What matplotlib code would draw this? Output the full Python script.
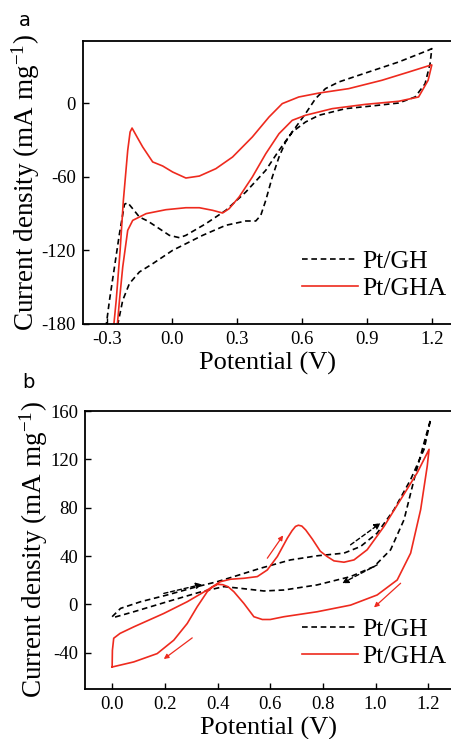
import numpy as np
import matplotlib
matplotlib.use('Agg')
import matplotlib.pyplot as plt

plt.rcParams['font.family'] = ['Liberation Serif', 'DejaVu Serif']
plt.rcParams['mathtext.fontset'] = 'custom'
plt.rcParams['mathtext.rm'] = 'Liberation Serif'
plt.rcParams['mathtext.it'] = 'Liberation Serif:italic'

RED = '#ee2a1e'

# ---- panel a : Pt/GH (dashed) ----
a_gh_x = [-0.272, -0.249, -0.227, -0.196, -0.150, -0.089, 0.003, 0.141, 0.248, 0.340, 0.386,
          0.409, 0.432, 0.462, 0.493, 0.523, 0.554, 0.615, 0.677, 0.799, 0.922, 1.044,
          1.120, 1.166, 1.189, 1.197,
          1.180, 1.044, 0.891, 0.768, 0.707, 0.661, 0.615, 0.554, 0.493, 0.432, 0.340,
          0.248, 0.156, 0.064, 0.034, -0.012, -0.058, -0.112, -0.150, -0.181, -0.204,
          -0.219, -0.242, -0.265, -0.288, -0.306]
a_gh_y = [-188, -179.7, -160.7, -147, -137.6, -130.9, -120, -107.8, -99.6, -96.1, -96.1,
          -91.5, -79.3, -60.3, -44, -31.8, -23.6, -15.5, -10, -4.6, -2.4, 0,
          4.9, 15.7, 32, 44.3,
          42.9, 33.4, 24.4, 17.1, 11.7, 3.5, -8.7, -23.6, -38.6, -54.8, -72.5,
          -87.4, -98.3, -107.8, -109.7, -107.8, -102.4, -96.1, -92.9, -86.1, -81.2,
          -82.5, -106.4, -133.6, -160.7, -185]

# ---- panel a : Pt/GHA (solid red) ----
a_gha_x = [-0.272, -0.257, -0.239, -0.224, -0.204, -0.193, -0.184, -0.160, -0.135, -0.089,
           -0.043, 0.003, 0.064, 0.126, 0.202, 0.279, 0.370, 0.447, 0.508, 0.584, 0.677,
           0.814, 0.967, 1.090, 1.189, 1.197,
           1.180, 1.136, 1.044, 0.891, 0.738, 0.615, 0.554, 0.493, 0.432, 0.370, 0.309,
           0.263, 0.233, 0.187, 0.126, 0.064, -0.028, -0.119, -0.181, -0.204, -0.227,
           -0.242, -0.254]
a_gha_y = [-188, -160.7, -120, -79.3, -38.6, -23.6, -20.4, -28, -35.8, -48,
           -51.3, -56.2, -61.1, -59.5, -53.5, -44, -27.7, -11.4, -0.5, 4.9, 8.1,
           11.7, 18.5, 25.2, 30.7, 31,
           18.5, 4.9, 1.4, -1.1, -4.6, -10, -14.1, -25, -41.3, -60.3, -76.6,
           -86.1, -89.6, -87.4, -85.3, -85.3, -86.9, -90.1, -95.6, -103.7, -133.6,
           -160.7, -185]

# ---- panel b : Pt/GH (dashed) ----
b_gh_x = [0.0, 0.032, 0.108, 0.209, 0.323, 0.399, 0.462, 0.563, 0.677, 0.778, 0.880,
          0.943, 1.006, 1.070, 1.133, 1.184, 1.209,
          1.184, 1.146, 1.108, 1.057, 0.994, 0.905, 0.778, 0.652, 0.576, 0.487, 0.424,
          0.339, 0.209, 0.082, 0.006]
b_gh_y = [-10.2, -3.3, 2.2, 7.8, 14.7, 18.8, 23, 29.9, 36.8, 40.2, 42.4,
          47.9, 59, 78.4, 103.3, 128.3, 153.2,
          133.8, 103.3, 70.1, 45.2, 31.3, 23, 16.1, 11.9, 11.1, 13.3, 14.7,
          10.5, 2.2, -6.1, -10.8]

# ---- panel b : Pt/GHA (solid red) ----
b_gha_x = [0.0, 0.001, 0.006, 0.03, 0.082, 0.196, 0.285, 0.361, 0.411, 0.449, 0.500, 0.551,
           0.589, 0.627, 0.665, 0.683, 0.696, 0.707, 0.720, 0.735, 0.760, 0.790, 0.816, 0.842,
           0.880, 0.918, 0.968, 1.032, 1.095, 1.158, 1.203,
           1.196, 1.171, 1.133, 1.082, 1.006, 0.905, 0.778, 0.652, 0.600, 0.570, 0.538,
           0.500, 0.462, 0.440, 0.420, 0.400, 0.380, 0.361, 0.323, 0.285, 0.234, 0.171,
           0.082, 0.0]
b_gha_y = [-51.8, -38, -28, -24, -18.6, -7.5, 2.2, 11.9, 18.8, 20.8, 21.6, 23,
           28.5, 39.6, 54.8, 61, 64.5, 65.5, 64.8, 61.5, 54, 44, 39.6, 36,
           34.9, 36.8, 45.2, 64.5, 86.7, 108.9, 128.3,
           114.4, 78.4, 42.4, 20.2, 7.8, -0.6, -6.1, -10.2, -12.5, -12.5, -10.2,
           0.8, 10.5, 14.6, 16.3, 16.6, 14.2, 10.5, -1.9, -15.8, -29.6, -40.7,
           -47.6, -51.8]

# scan direction arrows in panel b: (x_start, y_start, x_end, y_end)
b_gh_arrows = [(0.196, 9.1, 0.342, 16.6), (0.905, 49.3, 1.019, 67.3), (1.006, 32.7, 0.873, 17.5)]
b_gha_arrows = [(0.589, 38.2, 0.649, 57.1), (1.095, 17.5, 0.994, -2.5), (0.304, -27.7, 0.196, -45.2)]

fig = plt.figure(figsize=(4.52, 7.39), dpi=100)
W, H = 452, 739
axa = fig.add_axes([83 / W, 1 - 324 / H, (452 - 83) / W, (324 - 41) / H])
axb = fig.add_axes([85 / W, 1 - 689 / H, (452 - 85) / W, (689 - 411) / H])

lw = 1.2
dash = (3.4, 2.2)

axa.plot(a_gh_x, a_gh_y, color='black', lw=lw, dashes=dash, label='Pt/GH')
axa.plot(a_gha_x, a_gha_y, color=RED, lw=lw, label='Pt/GHA')
axb.plot(b_gh_x, b_gh_y, color='black', lw=lw, dashes=dash, label='Pt/GH')
axb.plot(b_gha_x, b_gha_y, color=RED, lw=lw, label='Pt/GHA')

for x0, y0, x1, y1 in b_gh_arrows:
    axb.annotate('', xy=(x1, y1), xytext=(x0, y0),
                 arrowprops=dict(arrowstyle='-|>', color='black', lw=1.0, ls=(0, (3, 2)),
                                 mutation_scale=9, shrinkA=0, shrinkB=0))
for x0, y0, x1, y1 in b_gha_arrows:
    axb.annotate('', xy=(x1, y1), xytext=(x0, y0),
                 arrowprops=dict(arrowstyle='-|>', color=RED, lw=0.9,
                                 mutation_scale=7, shrinkA=0, shrinkB=0))

axa.set_xlim(-0.41, 1.29)
axa.set_ylim(-180, 50.5)
axa.set_xticks([-0.3, 0.0, 0.3, 0.6, 0.9, 1.2])
axa.set_xticklabels(['-0.3', '0.0', '0.3', '0.6', '0.9', '1.2'])
axa.set_yticks([-180, -120, -60, 0])
axa.set_yticklabels(['-180', '-120', '-60', '0'])

axb.set_xlim(-0.103, 1.29)
axb.set_ylim(-70, 160)
axb.set_xticks([0.0, 0.2, 0.4, 0.6, 0.8, 1.0, 1.2])
axb.set_xticklabels(['0.0', '0.2', '0.4', '0.6', '0.8', '1.0', '1.2'])
axb.set_yticks([-40, 0, 40, 80, 120, 160])
axb.set_yticklabels(['-40', '0', '40', '80', '120', '160'])

for ax in (axa, axb):
    ax.spines['right'].set_visible(False)
    for s in ('left', 'bottom', 'top'):
        ax.spines[s].set_linewidth(1.3)
    ax.tick_params(direction='in', length=4, width=1.0, labelsize=13.5, pad=5,
                   top=False, right=False)
    ax.set_xlabel('Potential (V)', fontsize=19, labelpad=3)
    ax.set_ylabel('Current density (mA mg$^{-1}$)', fontsize=19.5, labelpad=0)
    ax.legend(loc='upper left', frameon=False, fontsize=18.5, handlelength=2.2,
              handletextpad=0.15, labelspacing=0.15, borderpad=0, borderaxespad=0,
              bbox_to_anchor=(0.593, 0.26) if ax is axa else (0.591, 0.255))

fig.text(25 / W, 1 - 20 / H, 'a', fontsize=14, family='DejaVu Sans', ha='center', va='center')
fig.text(28 / W, 1 - 383 / H, 'b', fontsize=14, family='DejaVu Sans', ha='center', va='center')

fig.savefig('out.png', dpi=100)
